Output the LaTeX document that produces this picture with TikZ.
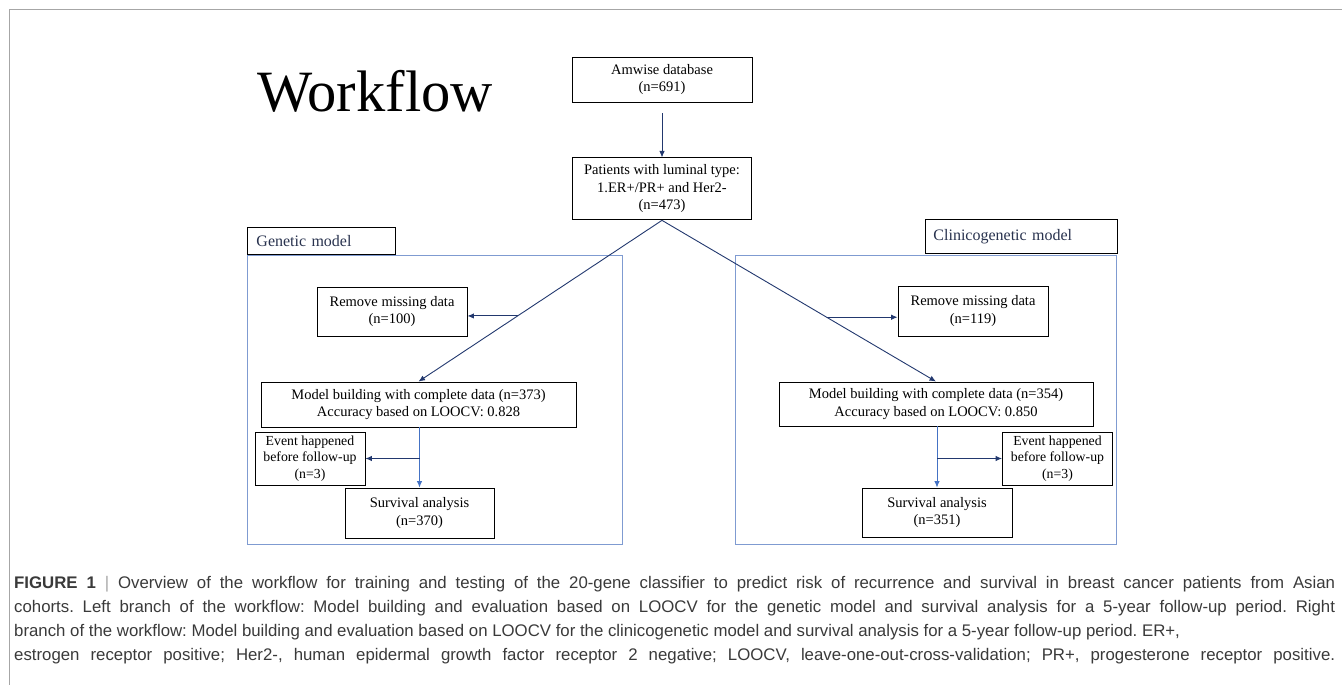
\documentclass[tikz,border=0pt]{standalone}
\usepackage{fontspec}
\setmainfont{Liberation Serif}
\newfontfamily\capfont{Liberation Sans}
\usetikzlibrary{positioning,arrows.meta}

\definecolor{arrowblue}{HTML}{22386E}
\definecolor{lightarrow}{HTML}{4472C4}
\definecolor{panelblue}{HTML}{7F9BD1}
\definecolor{labelink}{HTML}{28324E}
\definecolor{captionink}{HTML}{3A3A3A}
\definecolor{framegray}{HTML}{A6A6A6}
\frenchspacing

\begin{document}
\begin{tikzpicture}[x=1pt,y=-1pt,node distance=55pt,
  box/.style={draw=black,line width=0.9pt,fill=white,align=center,inner sep=2pt,
    font=\fontsize{14.5}{17.5}\selectfont},
  flow/.style={draw=arrowblue,line width=0.9pt,-{Latex[length=6.5pt,width=5.5pt]}}]

  \tikzstyle{panel} = [draw=panelblue,line width=0.9pt]
  \tikzstyle{tag} = [draw=black,line width=0.9pt,fill=white,anchor=south west,inner ysep=0pt,
    align=left,text=labelink,font=\fontsize{16}{19}\selectfont]
  \tikzstyle{eventbox} = [box,minimum width=110pt,minimum height=53pt,inner sep=1pt,
    font=\fontsize{13.8}{16.5}\selectfont]
  \tikzstyle{caption} = [anchor=base west,inner sep=0pt,text=captionink,font=\capfont\fontsize{16.8}{24}\selectfont]

  \useasboundingbox (0,0) rectangle (1342,685);
  \draw[framegray,line width=1pt] (1342,10) -- (9,10) -- (9,685);

  \node[anchor=base west,inner sep=0pt,font=\fontsize{58.5}{60}\selectfont] (title) at (257,111) {Workflow};

  % panels
  \draw[panel] (247,255) rectangle (622,544);
  \draw[panel] (735,255) rectangle (1116,544);
  \node[tag,minimum width=148pt,minimum height=27pt,text width=130pt,inner xsep=9pt] (gtag) at (247,255) {Genetic model};
  \node[tag,minimum width=192pt,minimum height=34pt,text width=176pt,inner xsep=8pt] (ctag) at (925,254) {Clinicogenetic model};

  \node[box,minimum width=180pt,minimum height=45pt] (amwise) at (662,79.5) {Amwise database\\(n=691)};
  \node[box,minimum width=179pt,minimum height=62pt,below=of amwise] (luminal) {Patients with luminal type:\\1.ER+/PR+ and Her2-\\(n=473)};

  % genetic branch
  \node[box,minimum width=150pt,minimum height=49pt] (gremove) at (392,311.5) {Remove missing data\\(n=100)};
  \node[box,minimum width=315pt,minimum height=45pt] (gmodel) at (418.5,404.5) {Model building with complete data (n=373)\\Accuracy based on LOOCV: 0.828};
  \node[box,minimum width=149pt,minimum height=50pt] (gsurv) at (419.5,513) {Survival analysis\\(n=370)};
  \node[eventbox] (gevent) at (310,458.5) {Event happened\\before follow-up\\(n=3)};

  % clinicogenetic branch
  \node[box,minimum width=150pt,minimum height=50pt] (cremove) at (973,311) {Remove missing data\\(n=119)};
  \node[box,minimum width=314pt,minimum height=44pt] (cmodel) at (936,404) {Model building with complete data (n=354)\\Accuracy based on LOOCV: 0.850};
  \node[box,minimum width=150pt,minimum height=49pt] (csurv) at (937,512.5) {Survival analysis\\(n=351)};
  \node[eventbox] (cevent) at (1057.5,458.5) {Event happened\\before follow-up\\(n=3)};

  \draw[flow,shorten <=11pt] (amwise) -- (luminal);
  \draw[flow] (luminal.south) -- coordinate[pos=0.593] (gsplit) (gmodel.north);
  \draw[flow] (luminal.south) -- coordinate[pos=0.601] (csplit) (cmodel.north);
  \draw[flow] (gsplit) -- (gsplit -| gremove.east);
  \draw[flow] (csplit) -- (csplit -| cremove.west);
  \draw[flow,draw=lightarrow] (gsurv.north |- gmodel.south) -- (gsurv.north);
  \draw[flow,draw=lightarrow] (csurv.north |- cmodel.south) -- (csurv.north);
  \draw[flow] (gevent.east -| gsurv.north) -- (gevent.east);
  \draw[flow] (cevent.west -| csurv.north) -- (cevent.west);

  % caption
  \node[caption] (cap1) at (14,588) {\makebox[1321pt][s]{\textbf{FIGURE 1} {\color{framegray}|} Overview of the workflow for training and testing of the 20-gene classifier to predict risk of recurrence and survival in breast cancer patients from Asian}};
  \node[caption] (cap2) at (14,612) {\makebox[1321pt][s]{cohorts. Left branch of the workflow: Model building and evaluation based on LOOCV for the genetic model and survival analysis for a 5-year follow-up period. Right}};
  \node[caption] (cap3) at (14,636) {branch of the workflow: Model building and evaluation based on LOOCV for the clinicogenetic model and survival analysis for a 5-year follow-up period. ER+,};
  \node[caption] (cap4) at (14,660) {\makebox[1321pt][s]{estrogen receptor positive; Her2-, human epidermal growth factor receptor 2 negative; LOOCV, leave-one-out-cross-validation; PR+, progesterone receptor positive.}};
\end{tikzpicture}
\end{document}
